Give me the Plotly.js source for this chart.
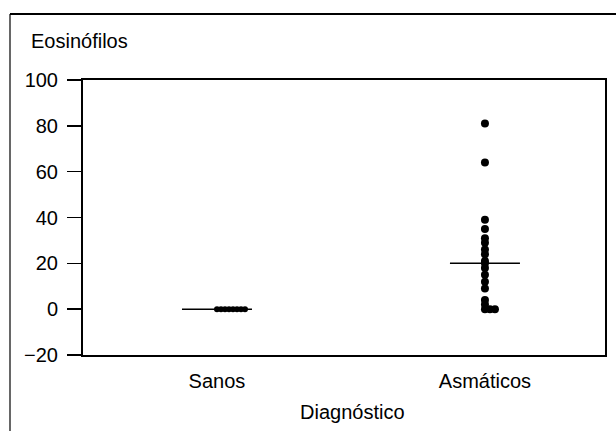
<!DOCTYPE html>
<html>
<head>
<meta charset="utf-8">
<script src="https://cdn.plot.ly/plotly-3.0.1.min.js"></script>
<style>
html,body{margin:0;padding:0;background:#fff;}
#chart{width:616px;height:431px;}
</style>
</head>
<body>
<div id="chart"></div>
<script>
// ---- data ----
const categories = ['Sanos', 'Asmáticos'];
const sanos = [0, 0, 0, 0, 0, 0, 0, 0];
const asmaticos = [81, 64, 39, 35, 31, 29, 26, 24, 21, 20, 18, 15, 12, 9, 4, 2, 0, 0, 0];
const yTickVals = [-20, 0, 20, 40, 60, 80, 100];
const yTitle = 'Eosinófilos';
const xTitle = 'Diagnóstico';

// ---- layout constants ----
const W = 616, H = 431;
const M = {l: 83, r: 11, t: 80, b: 76};
const plotW = W - M.l - M.r, plotH = H - M.t - M.b;
const xRange = [-0.5, 1.448];
const pxPerUnit = plotW / (xRange[1] - xRange[0]);
const FONT = 'Liberation Sans, Arial, Helvetica, sans-serif';
const FS = 20;

function median(a) {
  const s = a.slice().sort((p, q) => p - q);
  const n = s.length;
  return n % 2 ? s[(n - 1) / 2] : (s[n / 2 - 1] + s[n / 2]) / 2;
}
// dot-stack: identical values are placed side by side to the right
function stackX(vals, center, stepPx) {
  const seen = {};
  return vals.map(v => {
    const k = seen[v] || 0;
    seen[v] = k + 1;
    return center + k * stepPx / pxPerUnit;
  });
}

const groups = [sanos, asmaticos];
const dotSize = [6, 8];
const stepPx = [4, 5];
const halfLine = 35 / pxPerUnit;

const traces = [];
groups.forEach((vals, i) => {
  traces.push({
    type: 'scatter', mode: 'markers',
    x: stackX(vals, i, stepPx[i]), y: vals,
    marker: {color: '#000', size: dotSize[i], line: {width: 0}},
    hoverinfo: 'skip', showlegend: false, cliponaxis: false
  });
  const m = median(vals);
  traces.push({
    type: 'scatter', mode: 'lines',
    x: [i - halfLine, i + halfLine], y: [m, m],
    line: {color: '#000', width: 1.5},
    hoverinfo: 'skip', showlegend: false
  });
});

const px2paperX = p => (p - M.l) / plotW;
const px2paperY = p => (H - M.b - p) / plotH;

const layout = {
  width: W, height: H,
  margin: M,
  paper_bgcolor: '#fff', plot_bgcolor: '#fff',
  font: {family: FONT, size: FS, color: '#000'},
  showlegend: false,
  xaxis: {
    range: xRange, tickvals: [0, 1], ticktext: categories,
    ticks: '', showgrid: false, zeroline: false,
    showline: true, mirror: true, linecolor: '#000', linewidth: 2,
    ticklabelstandoff: 7, tickfont: {family: FONT, size: FS, color: '#000'}
  },
  yaxis: {
    range: [-20, 100], tickvals: yTickVals,
    ticks: 'outside', ticklen: 14, tickwidth: 1.5, tickcolor: '#000',
    showgrid: false, zeroline: false,
    showline: true, mirror: true, linecolor: '#000', linewidth: 2,
    ticklabelstandoff: 5, tickfont: {family: FONT, size: FS, color: '#000'}
  },
  annotations: [
    {text: yTitle, xref: 'paper', yref: 'paper', x: px2paperX(29), y: px2paperY(41),
     xanchor: 'left', yanchor: 'middle', showarrow: false, font: {family: FONT, size: FS, color: '#000'}},
    {text: xTitle, xref: 'paper', yref: 'paper', x: px2paperX(352), y: px2paperY(412),
     xanchor: 'center', yanchor: 'middle', showarrow: false, font: {family: FONT, size: FS, color: '#000'}}
  ],
  shapes: [
    {type: 'line', xref: 'paper', yref: 'paper', x0: px2paperX(10), x1: px2paperX(10),
     y0: px2paperY(14), y1: px2paperY(H + 5), line: {color: '#000', width: 1.2}},
    {type: 'line', xref: 'paper', yref: 'paper', x0: px2paperX(10), x1: px2paperX(W + 5),
     y0: px2paperY(14), y1: px2paperY(14), line: {color: '#000', width: 1.8}}
  ]
};

Plotly.newPlot('chart', traces, layout, {staticPlot: true, displayModeBar: false});
</script>
</body>
</html>
